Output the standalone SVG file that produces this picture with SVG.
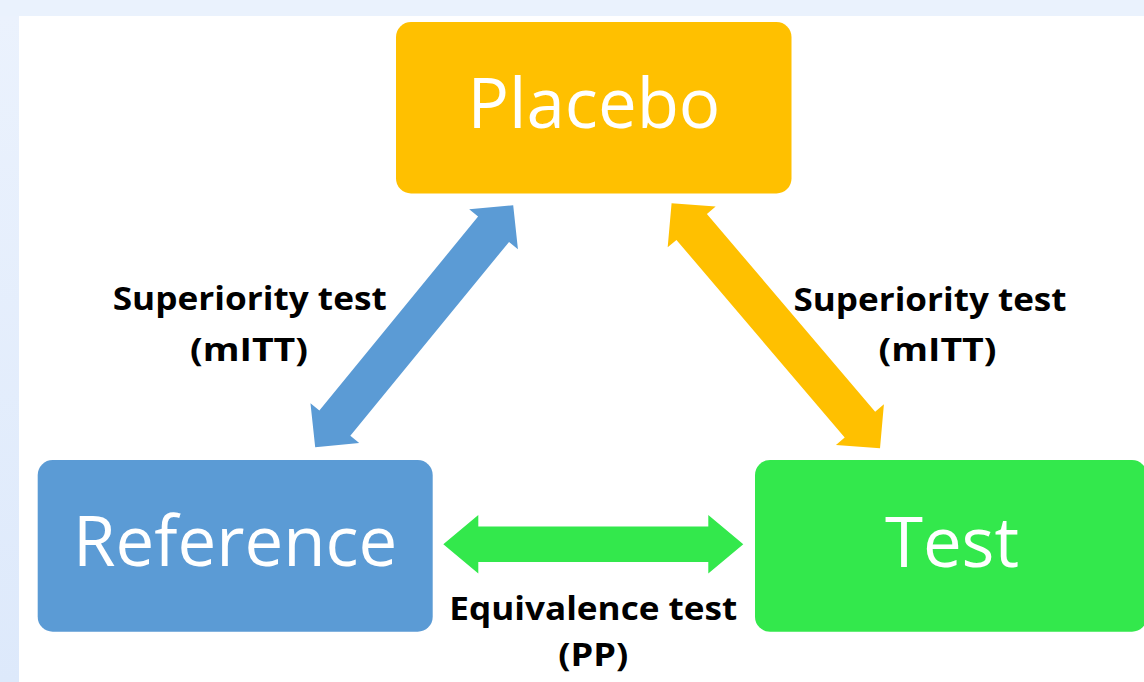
<svg xmlns="http://www.w3.org/2000/svg" width="1144" height="682" viewBox="0 0 1144 682">
  <defs>
    <linearGradient id="sideBand" x1="0" y1="0" x2="0" y2="1">
      <stop offset="0" stop-color="#ebf2fd"/>
      <stop offset="1" stop-color="#dde9fb"/>
    </linearGradient>
    <style>
      .box-text { font-family: "Open Sans", "Liberation Sans", sans-serif; font-size: 69px; fill: #ffffff; text-anchor: middle; }
      .label { font-family: "Open Sans", "Liberation Sans", sans-serif; font-weight: 700; font-size: 32.5px; fill: #000000; text-anchor: middle; }
      .blue { fill: #5b9bd5; }
      .orange { fill: #ffc000; }
      .green { fill: #33e84c; }
    </style>
  </defs>

  <!-- page background with pale frame -->
  <rect x="0" y="0" width="1144" height="682" fill="#ffffff"/>
  <rect x="0" y="0" width="1144" height="16" fill="#eaf2fd"/>
  <rect x="0" y="16" width="19" height="666" fill="url(#sideBand)"/>

  <!-- double-headed arrows between the groups -->
  <g id="connectors">
    <polygon class="blue" transform="translate(414.2 326.2) rotate(-50.7)"
      points="-156.3,0 -125.3,-31.5 -125.3,-20 125.3,-20 125.3,-31.5 156.3,0 125.3,31.5 125.3,20 -125.3,20 -125.3,31.5"/>
    <polygon class="orange" transform="translate(775.8 325.8) rotate(49.6)"
      points="-160.8,0 -129.8,-31.5 -129.8,-20 129.8,-20 129.8,-31.5 160.8,0 129.8,31.5 129.8,20 -129.8,20 -129.8,31.5"/>
    <polygon class="green" transform="translate(593.3 544.3)"
      points="-150,0 -115,-29.2 -115,-17.7 115,-17.7 115,-29.2 150,0 115,29.2 115,17.7 -115,17.7 -115,29.2"/>

    <text class="label" x="249.7" y="310" textLength="274" lengthAdjust="spacingAndGlyphs">Superiority test</text>
    <text class="label" x="249" y="360.5" textLength="118" lengthAdjust="spacingAndGlyphs">(mITT)</text>

    <text class="label" x="930" y="310.5" textLength="273" lengthAdjust="spacingAndGlyphs">Superiority test</text>
    <text class="label" x="937.5" y="360.5" textLength="118" lengthAdjust="spacingAndGlyphs">(mITT)</text>

    <text class="label" x="593.3" y="620" textLength="288" lengthAdjust="spacingAndGlyphs">Equivalence test</text>
    <text class="label" x="593.3" y="666" textLength="70" lengthAdjust="spacingAndGlyphs">(PP)</text>
  </g>

  <g id="placebo">
    <rect class="orange" x="396" y="22" width="395.5" height="171.5" rx="15" ry="15"/>
    <text class="box-text" x="594" y="128.3">Placebo</text>
  </g>

  <g id="reference">
    <rect class="blue" x="37.7" y="460" width="395" height="171.7" rx="15" ry="15"/>
    <text class="box-text" x="235.2" y="566">Reference</text>
  </g>

  <g id="test">
    <rect class="green" x="755" y="460" width="392" height="171.7" rx="15" ry="15"/>
    <text class="box-text" x="952" y="566.5">Test</text>
  </g>
</svg>
